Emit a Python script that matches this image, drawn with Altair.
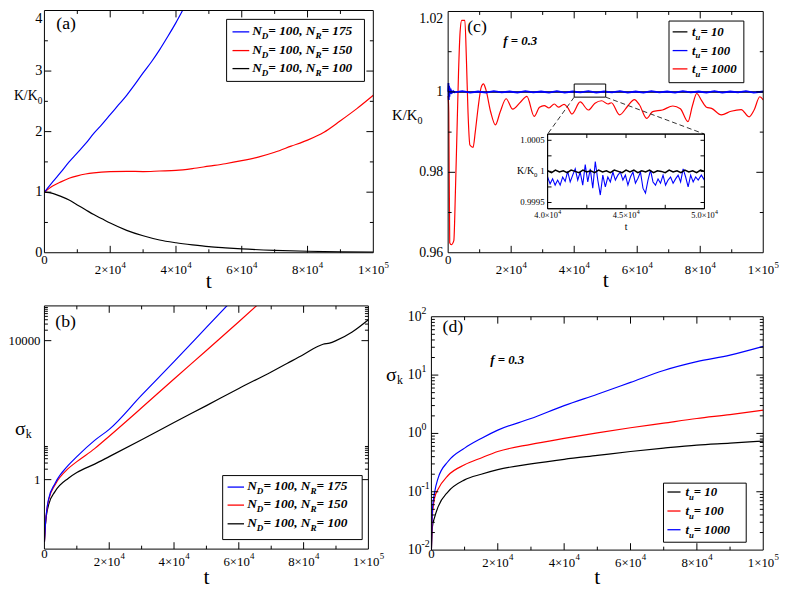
import altair as alt
import pandas as pd

# ===================== values =====================
# shared t axis (0 .. 1e5)
X_MAJOR = [20000, 40000, 60000, 80000]
X_MINOR = [10000, 30000, 50000, 70000, 90000]
X_LAB_T = [0, 20000, 40000, 60000, 80000, 100000]
X_LAB_MANT = ["0", "2", "4", "6", "8", "1"]
X_LAB_EXP = ["", "4", "4", "4", "4", "5"]

# ---- (a) K/K0 ----
A_Y_MAJOR = [1, 2, 3]
A_Y_MINOR = [0.5, 1.5, 2.5, 3.5]
A_YLAB_V = [0, 1, 2, 3, 4]
A_YLAB = ["0", "1", "2", "3", "4"]
A_T_BLUE = [0, 2500, 5000, 7500, 10000, 12500, 15000, 17500, 20000, 22500, 25000,
            27500, 30000, 32500, 35000, 37500, 40000, 42500, 45000]
A_BLUE = [1.0, 1.17, 1.33, 1.5, 1.65, 1.8, 1.97, 2.12, 2.28, 2.44, 2.6,
          2.78, 2.97, 3.15, 3.35, 3.57, 3.8, 4.05, 4.3]
A_T_RED = [0, 2500, 5000, 7500, 10000, 12500, 15000, 20000, 25000, 30000, 35000, 40000,
           45000, 50000, 55000, 60000, 65000, 70000, 75000, 80000, 85000, 90000, 95000, 100000]
A_RED = [1.0, 1.1, 1.17, 1.23, 1.27, 1.3, 1.32, 1.34, 1.345, 1.34, 1.35, 1.36,
         1.39, 1.43, 1.47, 1.52, 1.58, 1.66, 1.76, 1.86, 1.99, 2.18, 2.38, 2.6]
A_T_BLACK = [0, 2500, 5000, 7500, 10000, 12500, 15000, 17500, 20000, 25000, 30000,
             35000, 40000, 45000, 50000, 55000, 60000, 70000, 80000, 90000, 100000]
A_BLACK = [1.0, 0.98, 0.93, 0.87, 0.79, 0.71, 0.63, 0.56, 0.49, 0.37, 0.28,
           0.21, 0.165, 0.13, 0.1, 0.08, 0.063, 0.04, 0.025, 0.015, 0.01]
LEG_NR = ["175", "150", "100"]

# ---- (b) sigma_k, log axis ----
B_Y_MAJOR = [1, 10000]
B_Y_MINOR = [2, 3, 4, 5, 6, 7, 8, 9, 20000, 30000, 40000, 50000, 60000, 70000, 80000, 90000]
B_YLAB_V = [1, 10000]
B_YLAB = ["1", "10000"]
B_T_BLUE = [0, 300, 1300, 3300, 7400, 10000, 15500, 20000, 30000, 40000, 50000, 57000]
B_BLUE = [0.016, 0.05, 0.28, 0.79, 2.6, 4.6, 13.5, 28, 270, 2500, 24000, 117000]
B_T_RED = [0, 300, 1300, 3300, 7400, 10000, 15500, 20000, 30000, 40000, 50000, 60000, 66000]
B_RED = [0.016, 0.05, 0.26, 0.71, 2.1, 3.3, 7.8, 17.8, 117, 790, 5200, 35000, 112000]
B_T_BLACK = [0, 300, 1300, 3300, 7400, 10000, 15500, 20000, 30000, 40000, 50000, 60000,
             70000, 75000, 80000, 84000, 86000, 88000, 90000, 95000, 100000]
B_BLACK = [0.016, 0.05, 0.19, 0.46, 1.1, 1.6, 2.8, 4.6, 14, 44, 135, 420,
           1260, 2240, 4000, 6600, 7900, 8500, 10000, 17800, 40000]

# ---- (c) K/K0, f = 0.3 ----
C_Y_MAJOR = [0.98, 1.0]
C_Y_MINOR = [0.97, 0.99, 1.01]
C_YLAB_V = [0.96, 0.98, 1.0, 1.02]
C_YLAB = ["0.96", "0.98", "1", "1.02"]
C_T_RED = [0, 200, 500, 1000, 1800, 2300, 2800, 3300, 3800, 4300,
           5300, 5800, 6300, 6900, 7900, 8600, 9500, 10500, 11200, 12000,
           13500, 15000, 16500, 18400, 20500, 23000, 25000, 27300, 29000, 30500,
           32000, 33700, 35000, 36800, 38000, 39300, 41900, 44500, 46600, 48700,
           50700, 51800, 54400, 57000, 59100, 60700, 63000, 64900, 68000, 71300,
           73700, 76100, 77500, 78900, 80400, 82000, 83600, 86700, 89800, 93000,
           95500, 97100, 98900, 100000]
C_RED = [0.999, 0.995, 0.9625, 0.962, 0.963, 0.975, 0.99, 1.005, 1.015, 1.0178,
         1.0178, 1.008, 0.995, 0.9868, 0.9862, 0.99, 0.996, 1.0012, 1.002, 1.0005,
         0.995, 0.9918, 0.995, 0.9983, 0.9957, 0.9975, 0.9989, 0.9939, 0.9962, 0.9966,
         0.996, 0.997, 0.9962, 0.9969, 0.996, 0.9945, 0.9975, 0.9955, 0.9972, 0.9978,
         0.997, 0.9973, 0.9943, 0.9965, 0.9981, 0.9968, 0.9934, 0.9951, 0.9955, 0.9965,
         0.9958, 0.9926, 0.9965, 0.9996, 0.9979, 0.9962, 0.9959, 0.9943, 0.9952, 0.9956,
         0.9938, 0.9955, 0.9988, 0.998]
C_T_BLUE = [0, 100, 200, 300, 400, 550, 700, 900, 1200, 1600, 2000,
            4500, 7000, 9500, 12000, 14500, 17000, 19500, 22000, 24500, 27000,
            29500, 32000, 34500, 37000, 39500, 42000, 44500, 47000, 49500, 52000,
            54500, 57000, 59500, 62000, 64500, 67000, 69500, 72000, 74500, 77000,
            79500, 82000, 84500, 87000, 89500, 92000, 94500, 97000, 100000]
C_BLUE = [1.0, 1.0022, 0.998, 1.0015, 0.9988, 1.0008, 0.9995, 1.0004, 0.9998, 1.0002, 0.9999,
          1.0002, 0.9998, 1.0001, 0.9998, 1.0002, 0.9999, 1.0001, 0.9998, 1.0002, 0.9999,
          1.0001, 0.9998, 1.0002, 0.9998, 1.0001, 0.9999, 1.0002, 0.9998, 1.0001, 0.9999,
          1.0002, 0.9998, 1.0001, 0.9998, 1.0002, 0.9999, 1.0001, 0.9998, 1.0002, 0.9999,
          1.0001, 0.9998, 1.0002, 0.9998, 1.0001, 0.9999, 1.0002, 0.9998, 1.0001]
C_T_BLACK = [0, 50000, 100000]
C_BLACK = [1.0, 1.0, 1.0]
ZOOM_BOX_V = [0.9987, 1.00196]          # small rectangle marking the inset window
LEG_TU = ["10", "100", "1000"]

# ---- (c) inset ----
INS_X_DOM = [40000, 50000]
INS_Y_DOM = [0.9994, 1.0006]
INS_X_TICKS = [42500, 45000, 47500]
INS_Y_TICKS = [0.9995, 0.99975, 1.0, 1.00025, 1.0005]
INS_XLAB_T = [40000, 45000, 50000]
INS_XLAB_MANT = ["4.0", "4.5", "5.0"]
INS_XLAB_EXP = ["4", "4", "4"]
INS_YLAB_V = [0.9995, 1.0, 1.0005]
INS_YLAB = ["0.9995", "1", "1.0005"]
INS_T_BLUE = [40000, 40160, 40320, 40480, 40640, 40800, 40960, 41120, 41280, 41440,
              41600, 41760, 41920, 42080, 42240, 42400, 42560, 42720, 42880, 43040,
              43200, 43360, 43520, 43680, 43840, 44000, 44160, 44320, 44480, 44640,
              44800, 44960, 45120, 45280, 45440, 45600, 45760, 45920, 46080, 46240,
              46400, 46560, 46720, 46880, 47040, 47200, 47360, 47520, 47680, 47840,
              48000, 48160, 48320, 48480, 48640, 48800, 48960, 49120, 49280, 49440,
              49600, 49800, 50000]
INS_BLUE = [0.99991, 0.99980, 0.99988, 0.99978, 0.99986, 0.99978, 0.99991, 0.99984, 1.00000, 0.99983,
            0.99994, 1.00004, 0.99986, 0.99999, 0.99978, 1.00011, 0.99983, 1.00004, 0.99973, 1.00016,
            0.99986, 0.99962, 0.99994, 0.99975, 0.99991, 0.99983, 0.99999, 0.99986, 0.99994, 0.99999,
            0.99986, 0.99994, 0.99978, 0.99991, 0.99999, 0.99981, 0.99989, 0.99999, 0.99973, 0.99965,
            0.99986, 1.00002, 0.99983, 0.99978, 0.99988, 0.99981, 0.99994, 0.99978, 0.99986, 0.99991,
            0.99981, 0.99988, 0.99994, 0.99983, 1.00004, 0.99991, 0.99975, 0.99994, 0.99983, 0.99991,
            0.99986, 0.99994, 0.99986]
INS_T_BLACK = [40000, 40250, 40500, 40750, 41000, 41250, 41500, 41750, 42000, 42250,
               42500, 42750, 43000, 43250, 43500, 43750, 44000, 44250, 44500, 44750,
               45000, 45250, 45500, 45750, 46000, 46250, 46500, 46750, 47000, 47250,
               47500, 47750, 48000, 48250, 48500, 48750, 49000, 49250, 49500, 49750, 50000]
INS_BLACK = [1.00001, 0.99998, 1.00002, 0.99999, 1.00001, 0.99998, 1.00002, 1.0, 0.99998, 1.00002,
             0.99999, 1.00001, 0.99998, 1.00002, 0.99999, 1.00001, 0.99998, 1.00002, 1.0, 0.99998,
             1.00002, 0.99999, 1.00002, 0.99998, 1.00001, 0.99999, 1.00002, 0.99998, 1.00001, 1.0,
             0.99998, 1.00002, 0.99999, 1.00001, 0.99998, 1.00002, 0.99999, 1.00001, 0.99998, 1.00002, 1.0]

# ---- (d) sigma_k, log axis ----
D_Y_MAJOR = [0.1, 1, 10]
D_Y_MINOR = [0.02, 0.03, 0.04, 0.05, 0.06, 0.07, 0.08, 0.09,
             0.2, 0.3, 0.4, 0.5, 0.6, 0.7, 0.8, 0.9,
             2, 3, 4, 5, 6, 7, 8, 9,
             20, 30, 40, 50, 60, 70, 80, 90]
D_YLAB_V = [0.01, 0.1, 1, 10, 100]
D_YLAB_EXP = ["-2", "-1", "0", "1", "2"]
D_T = [0, 300, 1000, 2000, 5000, 10000, 15000, 20000, 30000, 40000, 50000,
       60000, 70000, 80000, 90000, 100000]
D_BLUE = [0.01, 0.05, 0.1, 0.17, 0.33, 0.56, 0.82, 1.14, 1.8, 3.0, 4.7, 7.5, 12, 17, 22, 31]
D_RED = [0.01, 0.04, 0.08, 0.11, 0.19, 0.29, 0.38, 0.49, 0.65, 0.82, 1.02, 1.25, 1.5, 1.8, 2.1, 2.5]
D_BLACK = [0.01, 0.025, 0.037, 0.055, 0.1, 0.16, 0.2, 0.24, 0.3, 0.36, 0.42, 0.49, 0.56, 0.63, 0.68, 0.74]

# ===================== styling helpers =====================
SERIF = "'Liberation Serif', 'Times New Roman', Times, serif"
BLUE, RED, BLACK = "#0000ff", "#ff0000", "#000000"
ONE = pd.DataFrame({"k": [0]})

REG = {"0": .5, "1": .5, "2": .5, "3": .5, "4": .5, "5": .5, "6": .5, "7": .5, "8": .5, "9": .5,
       ".": .25, ",": .25, " ": .25, "=": .564, "×": .564, "K": .722, "/": .278, "σ": .55,
       "k": .5, "t": .278, "(": .333, ")": .333, "-": .333}
BI = {"0": .5, "1": .5, "2": .5, "3": .5, "4": .5, "5": .5, "6": .5, "7": .5, "8": .5, "9": .5,
      ".": .25, ",": .25, " ": .25, "=": .57, "N": .722, "D": .722, "R": .667, "t": .278,
      "u": .556, "f": .333}


def twidth(s, size, bi=False):
    tab = BI if bi else REG
    return sum(tab.get(c, 0.5) for c in s) * size


def txt(s, x, y, size, align="left", baseline="alphabetic", bi=False, color=BLACK):
    kw = dict(text=s, align=align, baseline=baseline, fontSize=size, font=SERIF, color=color)
    if bi:
        kw["fontWeight"] = "bold"
        kw["fontStyle"] = "italic"
    return alt.Chart(ONE).mark_text(**kw).encode(x=alt.value(x), y=alt.value(y))


def rich(pieces, x, y, size, bi=False, sub=0.68, drop=0.3):
    out, cx = [], x
    for s, kind in pieces:
        fs = size * sub if kind == "sub" else size
        yy = y + size * drop if kind == "sub" else y
        out.append(txt(s, cx, yy, fs, bi=bi))
        cx += twidth(s, fs, bi)
    return out


def scales(xdom, ydom, rect, ylog=False):
    x0, x1, y0, y1 = rect
    xs = alt.Scale(domain=xdom, range=[x0, x1], nice=False, zero=False)
    if ylog:
        ys = alt.Scale(type="log", domain=ydom, range=[y1, y0], nice=False)
    else:
        ys = alt.Scale(domain=ydom, range=[y1, y0], nice=False, zero=False)
    return xs, ys


def line(t, v, color, xs, ys, width=1.2, interp="monotone", clip=True):
    df = pd.DataFrame({"t": t, "v": v})
    return alt.Chart(df).mark_line(color=color, strokeWidth=width, interpolate=interp, clip=clip).encode(
        x=alt.X("t:Q", scale=xs, axis=None), y=alt.Y("v:Q", scale=ys, axis=None))


def xticks(vals, xs, rect, length):
    x0, x1, y0, y1 = rect
    base = alt.Chart(pd.DataFrame({"t": vals})).mark_rule(color=BLACK, strokeWidth=1)
    X = alt.X("t:Q", scale=xs, axis=None)
    return [base.encode(x=X, y=alt.value(y1), y2=alt.value(y1 - length)),
            base.encode(x=X, y=alt.value(y0), y2=alt.value(y0 + length))]


def yticks(vals, ys, rect, length):
    x0, x1, y0, y1 = rect
    base = alt.Chart(pd.DataFrame({"v": vals})).mark_rule(color=BLACK, strokeWidth=1)
    Y = alt.Y("v:Q", scale=ys, axis=None)
    return [base.encode(y=Y, x=alt.value(x0), x2=alt.value(x0 + length)),
            base.encode(y=Y, x=alt.value(x1), x2=alt.value(x1 - length))]


def frame(rect, fill=None, width=1):
    x0, x1, y0, y1 = rect
    kw = dict(stroke=BLACK, strokeWidth=width)
    if fill:
        kw["fill"] = fill
    else:
        kw["fillOpacity"] = 0
    return alt.Chart(ONE).mark_rect(**kw).encode(
        x=alt.value(x0), x2=alt.value(x1), y=alt.value(y0), y2=alt.value(y1))


def xlabels(ts, mants, exps, xs, ybase, yzero, size=13, esize=9, eraise=7):
    rows = [(t, m + "×10", e) for t, m, e in zip(ts, mants, exps) if e]
    df = pd.DataFrame(rows, columns=["t", "base", "exp"])
    wb = twidth(rows[0][1], size)
    we = twidth(rows[0][2], esize)
    k = (wb + we) / 2 - we
    X = alt.X("t:Q", scale=xs, axis=None)
    out = [alt.Chart(df).mark_text(align="right", baseline="alphabetic", fontSize=size, font=SERIF,
                                   dx=k, color=BLACK).encode(x=X, y=alt.value(ybase), text="base:N"),
           alt.Chart(df).mark_text(align="left", baseline="alphabetic", fontSize=esize, font=SERIF,
                                   dx=k + 0.3, color=BLACK).encode(x=X, y=alt.value(ybase - eraise), text="exp:N")]
    zeros = [(t, m) for t, m, e in zip(ts, mants, exps) if not e]
    if zeros:
        zdf = pd.DataFrame(zeros, columns=["t", "lab"])
        out.append(alt.Chart(zdf).mark_text(align="center", baseline="alphabetic", fontSize=size,
                                            font=SERIF, color=BLACK).encode(x=X, y=alt.value(yzero), text="lab:N"))
    return out


def ylabels(vals, labs, ys, xpos, size):
    df = pd.DataFrame({"v": vals, "lab": labs})
    return [alt.Chart(df).mark_text(align="right", baseline="middle", fontSize=size, font=SERIF,
                                    color=BLACK).encode(x=alt.value(xpos),
                                                        y=alt.Y("v:Q", scale=ys, axis=None), text="lab:N")]


def legend(box, line_x, text_x, rows, size, sub=0.68, drop=0.3):
    out = [frame(box, fill="white")]
    for color, ly, tb, pieces in rows:
        out.append(alt.Chart(ONE).mark_rule(color=color, strokeWidth=1.3).encode(
            x=alt.value(line_x[0]), x2=alt.value(line_x[1]), y=alt.value(ly)))
        out += rich(pieces, text_x, tb, size, bi=True, sub=sub, drop=drop)
    return out


def nd(nr):
    return [("N", "n"), ("D", "sub"), ("= 100, N", "n"), ("R", "sub"), (" = " + nr, "n")]


def tu(v):
    return [("t", "n"), ("u", "sub"), (" = " + v, "n")]


# ===================== panel (a) =====================
RA = (0, 334, 0, 246)
xs, ys = scales([0, 100000], [0, 4], RA)
LA = [alt.Chart(ONE).mark_rule(color="white", opacity=0, strokeWidth=0.5).encode(
    x=alt.value(-31), x2=alt.value(-30), y=alt.value(-12), y2=alt.value(-12))]
LA += [line(A_T_BLACK, A_BLACK, BLACK, xs, ys), line(A_T_RED, A_RED, RED, xs, ys),
       line(A_T_BLUE, A_BLUE, BLUE, xs, ys)]
LA += xticks(X_MAJOR, xs, RA, 7) + xticks(X_MINOR, xs, RA, 3.5)
LA += yticks(A_Y_MAJOR, ys, RA, 7) + yticks(A_Y_MINOR, ys, RA, 3.5)
LA.append(frame(RA))
LA += xlabels(X_LAB_T, X_LAB_MANT, X_LAB_EXP, xs, 246 + 22, 246 + 11)
LA += ylabels(A_YLAB_V[:-1], A_YLAB[:-1], ys, -2, 14.5)
LA.append(txt(A_YLAB[-1], -2, 2, 14.5, align="right", baseline="top"))
LA += legend((185, 325, 9, 72), (191, 208), 211,
             [(BLUE, 21.7, 25, nd(LEG_NR[0])), (RED, 40.7, 44, nd(LEG_NR[1])),
              (BLACK, 59, 62.3, nd(LEG_NR[2]))], 13.5)
LA += rich([("K/K", "n"), ("0", "sub")], -31, 91, 14)
LA.append(txt("t", 167, 282, 22, align="center"))
LA.append(txt("(a)", 12, 19, 18))
panel_a = alt.layer(*LA).properties(width=334, height=246)

# ===================== panel (b) =====================
RB = (0, 329, 0, 247)
xs, ys = scales([0, 100000], [0.01, 100000], RB, ylog=True)
LB = [line(B_T_BLACK, B_BLACK, BLACK, xs, ys), line(B_T_RED, B_RED, RED, xs, ys),
      line(B_T_BLUE, B_BLUE, BLUE, xs, ys)]
LB += xticks(X_MAJOR, xs, RB, 7) + xticks(X_MINOR, xs, RB, 3.5)
LB += yticks(B_Y_MAJOR, ys, RB, 7) + yticks(B_Y_MINOR, ys, RB, 3.5)
LB.append(frame(RB))
LB += xlabels(X_LAB_T, X_LAB_MANT, X_LAB_EXP, xs, 247 + 17, 247 + 9)
LB += ylabels(B_YLAB_V, B_YLAB, ys, -4, 13)
LB += legend((181, 322.7, 172.3, 237.3), (186, 202.7), 206,
             [(BLUE, 184, 187.3, nd(LEG_NR[0])), (RED, 202.3, 205.6, nd(LEG_NR[1])),
              (BLACK, 221.3, 224.6, nd(LEG_NR[2]))], 13.5)
LB += rich([("σ", "n"), ("k", "sub")], -30, 130.7, 20, sub=0.6, drop=0.17)
LB.append(txt("t", 164.5, 282, 22, align="center"))
LB.append(txt("(b)", 11, 21, 18))
panel_b = alt.layer(*LB).properties(width=329, height=247)

# ===================== panel (c) =====================
RC = (17, 337, 1, 246)
xs, ys = scales([0, 100000], [0.96, 1.02], RC)
LC = [line(C_T_RED, C_RED, RED, xs, ys), line(C_T_BLACK, C_BLACK, BLACK, xs, ys, width=1.5, interp="linear"),
      line(C_T_BLUE, C_BLUE, BLUE, xs, ys, width=1.8, interp="linear")]
LC += xticks(X_MAJOR, xs, RC, 7) + xticks(X_MINOR, xs, RC, 3.5)
LC += yticks(C_Y_MAJOR, ys, RC, 7) + yticks(C_Y_MINOR, ys, RC, 3.5)
LC.append(frame(RC))
LC += xlabels(X_LAB_T, X_LAB_MANT, X_LAB_EXP, xs, 246 + 22, 246 + 11)
LC += ylabels(C_YLAB_V[:-1], C_YLAB[:-1], ys, 12, 14)
LC.append(txt(C_YLAB[-1], 12, 2, 14, align="right", baseline="top"))
# small rectangle marking the zoomed window and the dashed connectors
INS_RECT = (118, 277.3, 125.5, 201.3)
box_df = pd.DataFrame({"t": [INS_X_DOM[0]], "t2": [INS_X_DOM[1]], "v": [ZOOM_BOX_V[0]], "v2": [ZOOM_BOX_V[1]]})
LC.append(alt.Chart(box_df).mark_rect(fillOpacity=0, stroke=BLACK, strokeWidth=1).encode(
    x=alt.X("t:Q", scale=xs, axis=None), x2="t2:Q", y=alt.Y("v:Q", scale=ys, axis=None), y2="v2:Q"))
for tcorner, px in [(INS_X_DOM[0], INS_RECT[0]), (INS_X_DOM[1], INS_RECT[1])]:
    cdf = pd.DataFrame({"t": [tcorner], "v": [ZOOM_BOX_V[0]]})
    LC.append(alt.Chart(cdf).mark_rule(color="#333333", strokeWidth=1, strokeDash=[5, 3]).encode(
        x=alt.X("t:Q", scale=xs, axis=None), y=alt.Y("v:Q", scale=ys, axis=None),
        x2=alt.value(px), y2=alt.value(INS_RECT[2])))
LC += legend((241.3, 317.3, 10.7, 73.3), (245, 260), 264.7,
             [(BLACK, 21.7, 25.7, tu(LEG_TU[0])), (BLUE, 40.7, 44.7, tu(LEG_TU[1])),
              (RED, 59.3, 63.3, tu(LEG_TU[2]))], 13)
LC.append(txt("f = 0.3", 73, 35, 13, bi=True))
LC += rich([("K/K", "n"), ("0", "sub")], -40, 111, 15)
LC.append(txt("t", 177, 281, 22, align="center"))
LC.append(txt("(c)", 36.3, 22, 18))
main_c = alt.layer(*LC)

ixs, iys = scales(INS_X_DOM, INS_Y_DOM, INS_RECT)
LI = [frame(INS_RECT, fill="white"),
      line(INS_T_BLUE, INS_BLUE, BLUE, ixs, iys, width=1.1, interp="linear", clip=False),
      line(INS_T_BLACK, INS_BLACK, BLACK, ixs, iys, width=1.5, interp="linear", clip=False)]
LI += xticks(INS_X_TICKS, ixs, INS_RECT, 4) + yticks(INS_Y_TICKS, iys, INS_RECT, 4)
LI.append(frame(INS_RECT))
LI += xlabels(INS_XLAB_T, INS_XLAB_MANT, INS_XLAB_EXP, ixs, INS_RECT[3] + 9, INS_RECT[3] + 9,
              size=8.5, esize=6, eraise=4)
LI += ylabels(INS_YLAB_V, INS_YLAB, iys, INS_RECT[0] - 3, 9)
LI += rich([("K/K", "n"), ("0", "sub")], 87, 166, 10)
LI.append(txt("t", (INS_RECT[0] + INS_RECT[1]) / 2, 223, 10, align="center"))
inset_c = alt.layer(*LI)

panel_c = alt.layer(main_c, inset_c).resolve_scale(x="independent", y="independent").properties(
    width=337, height=246)

# ===================== panel (d) =====================
RD = (0, 337, 11, 248)
xs, ys = scales([0, 100000], [0.01, 100], RD, ylog=True)
LD = [line(D_T, D_BLACK, BLACK, xs, ys), line(D_T, D_RED, RED, xs, ys), line(D_T, D_BLUE, BLUE, xs, ys)]
LD += xticks(X_MAJOR, xs, RD, 7) + xticks(X_MINOR, xs, RD, 3.5)
LD += yticks(D_Y_MAJOR, ys, RD, 7) + yticks(D_Y_MINOR, ys, RD, 3.5)
LD.append(frame(RD))
LD += xlabels(X_LAB_T, X_LAB_MANT, X_LAB_EXP, xs, 248 + 17, 248 + 8)
ddf = pd.DataFrame({"v": D_YLAB_V, "base": ["10"] * len(D_YLAB_V), "exp": D_YLAB_EXP})
LD.append(alt.Chart(ddf).mark_text(align="right", baseline="middle", fontSize=14, font=SERIF, color=BLACK).encode(
    x=alt.value(-10), y=alt.Y("v:Q", scale=ys, axis=None), text="base:N"))
LD.append(alt.Chart(ddf).mark_text(align="left", baseline="middle", fontSize=10, font=SERIF, color=BLACK,
                                   dy=-6).encode(x=alt.value(-10), y=alt.Y("v:Q", scale=ys, axis=None), text="exp:N"))
LD += legend((235.7, 319.7, 180, 240), (239.7, 253), 258,
             [(BLACK, 189, 193, tu(LEG_TU[0])), (RED, 208.3, 212.3, tu(LEG_TU[1])),
              (BLUE, 227.3, 231.3, tu(LEG_TU[2]))], 13)
LD.append(txt("f = 0.3", 59.7, 59, 13, bi=True))
LD += rich([("σ", "n"), ("k", "sub")], -46, 76, 20, sub=0.6, drop=0.17)
LD.append(txt("t", 168.5, 282, 22, align="center"))
LD.append(txt("(d)", 11.3, 26, 18))
panel_d = alt.layer(*LD).properties(width=337, height=248)

# ===================== layout =====================
chart = alt.concat(panel_a, panel_c, panel_b, panel_d, columns=2,
                   spacing={"row": 54, "column": 59}, bounds="flush", align="each").properties(
    padding={"left": 0, "top": -14, "right": 0, "bottom": 0},
    background="white",
).configure_view(stroke=None)

chart.save("out.html", embed_options={"renderer": "svg", "actions": False})
